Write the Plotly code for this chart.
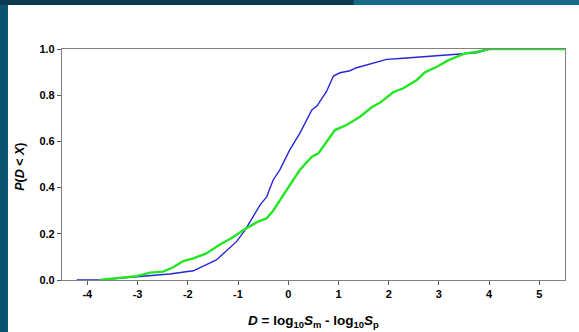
import plotly.graph_objects as go

# Empirical CDFs of D = log10(Sm) - log10(Sp)
blue_x = [-4.21, -3.76, -3.02, -2.36, -1.89, -1.63, -1.43, -1.03, -0.86, -0.56, -0.43,
          -0.30, -0.17, 0.03, 0.23, 0.47, 0.57, 0.76, 0.90, 1.03, 1.23, 1.36, 1.63,
          1.96, 2.29, 2.89, 3.16, 3.42, 3.75, 4.02, 5.50]
blue_y = [0.0, 0.0, 0.014, 0.026, 0.040, 0.065, 0.087, 0.166, 0.216, 0.325, 0.360,
          0.433, 0.476, 0.563, 0.635, 0.736, 0.753, 0.815, 0.883, 0.897, 0.906, 0.919,
          0.935, 0.955, 0.960, 0.970, 0.974, 0.978, 0.984, 1.0, 1.0]

green_x = [-3.76, -3.49, -3.02, -2.75, -2.49, -2.29, -2.09, -1.89, -1.63, -1.36, -1.10,
           -0.86, -0.60, -0.43, -0.30, -0.03, 0.23, 0.47, 0.60, 0.93, 1.16, 1.43, 1.66,
           1.83, 2.09, 2.29, 2.56, 2.72, 2.96, 3.19, 3.39, 3.52, 3.75, 3.98, 5.50]
green_y = [0.0, 0.007, 0.017, 0.032, 0.036, 0.055, 0.082, 0.094, 0.115, 0.154, 0.185,
           0.221, 0.253, 0.267, 0.300, 0.390, 0.476, 0.534, 0.548, 0.649, 0.671, 0.707,
           0.748, 0.768, 0.813, 0.830, 0.866, 0.899, 0.923, 0.952, 0.970, 0.981, 0.987,
           1.0, 1.0]

x_ticks = [-4, -3, -2, -1, 0, 1, 2, 3, 4, 5]
y_ticks = [0.0, 0.2, 0.4, 0.6, 0.8, 1.0]

FONT = "Liberation Sans, Arial, sans-serif"

fig = go.Figure()
fig.add_trace(go.Scatter(x=blue_x, y=blue_y, mode="lines",
                         line=dict(color="#2626d6", width=1.4), showlegend=False))
fig.add_trace(go.Scatter(x=green_x, y=green_y, mode="lines",
                         line=dict(color="#22e622", width=2.4), showlegend=False))

# slide-style backdrop: dark frame with a white panel behind the chart
fig.add_shape(type="rect", xref="paper", yref="paper", x0=-0.1074, x1=1.2,
              y0=-0.4, y1=1.19, fillcolor="white", line_width=0, layer="below")
fig.add_shape(type="rect", xref="paper", yref="paper", x0=-0.2, x1=0.58,
              y0=1.19, y1=1.3, fillcolor="#0c3a50", line_width=0, layer="below")
fig.add_shape(type="rect", xref="paper", yref="paper", x0=0.58, x1=1.2,
              y0=1.19, y1=1.3, fillcolor="#17698a", line_width=0, layer="below")

fig.add_annotation(xref="paper", yref="paper", x=0.5, y=-0.18,
                   text="<b><i>D</i> = log<sub>10</sub><i>S</i><sub>m</sub> - log<sub>10</sub><i>S</i><sub>p</sub></b>",
                   showarrow=False, font=dict(family=FONT, size=13.5, color="black"),
                   xanchor="center", yanchor="middle")
fig.add_annotation(xref="paper", yref="paper", x=-0.0835, y=0.49,
                   text="<b><i>P</i>(<i>D</i> &lt; <i>X</i>)</b>", textangle=-90,
                   showarrow=False, font=dict(family=FONT, size=12.5, color="black"),
                   xanchor="center", yanchor="middle")

fig.update_xaxes(range=[-4.504, 5.51], tickvals=x_ticks, ticktext=[str(t) for t in x_ticks],
                 showgrid=False, zeroline=False, showline=True, linecolor="#808080",
                 linewidth=1.2, mirror=True, ticks="outside", ticklen=4, tickcolor="#555",
                 tickfont=dict(family=FONT, size=11, color="black", weight="bold"))
fig.update_yaxes(range=[0, 1.0], tickvals=y_ticks, ticktext=[f"{t:.1f}" for t in y_ticks],
                 showgrid=False, zeroline=False, showline=True, linecolor="#808080",
                 linewidth=1.2, mirror=True, ticks="outside", ticklen=4, tickcolor="#555",
                 tickfont=dict(family=FONT, size=11, color="black", weight="bold"))

fig.update_layout(width=579, height=332, margin=dict(l=62, r=14, t=49, b=52),
                  paper_bgcolor="#0b5470", plot_bgcolor="white")

fig.write_html("out.html")
